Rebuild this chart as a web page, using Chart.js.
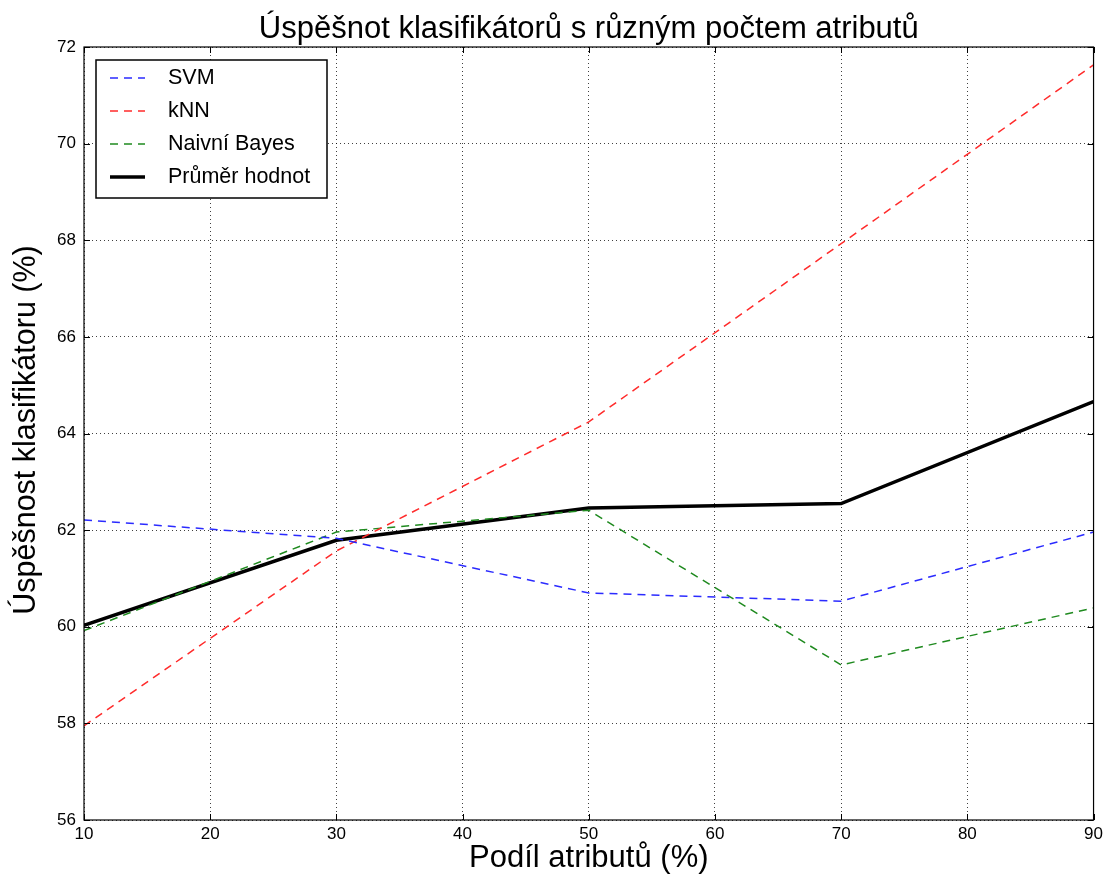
<!DOCTYPE html>
<html>
<head>
<meta charset="utf-8">
<script src="https://cdn.jsdelivr.net/npm/chart.js@4"></script>
<style>
  html, body { margin: 0; padding: 0; background: #fff; }
  #wrap { width: 1107px; height: 876px; }
</style>
</head>
<body>
<div id="wrap"><canvas id="c" width="1107" height="876"></canvas></div>
<script>
/* ---- data ---- */
const shares = [10, 30, 50, 70, 90];            // Podíl atributů (%)
const svm    = [62.21, 61.83, 60.70, 60.53, 61.96];
const knn    = [57.95, 61.57, 64.24, 67.93, 71.63];
const bayes  = [59.92, 61.96, 62.41, 59.21, 60.39];
const avg    = [60.03, 61.79, 62.46, 62.55, 64.66];
const yTicks = [56, 58, 60, 62, 64, 66, 68, 70, 72];
const xTicks = [10, 20, 30, 40, 50, 60, 70, 80, 90];

const titleText = 'Úspěšnot klasifikátorů s různým počtem atributů';
const xTitle = 'Podíl atributů (%)';
const yTitle = 'Úspěšnost klasifikátoru (%)';
const FONT = '"Liberation Sans", Arial, sans-serif';

const pts = arr => shares.map((x, i) => ({ x, y: arr[i] }));

/* frame, inward ticks, titles and the in-plot legend */
const decor = {
  id: 'decor',
  afterDraw(chart) {
    const { ctx, chartArea: a, scales } = chart;
    ctx.save();
    ctx.strokeStyle = '#000';
    ctx.lineWidth = 1.2;
    ctx.strokeRect(a.left, a.top, a.right - a.left, a.bottom - a.top);

    // matplotlib-style ticks pointing into the plot on all four sides
    ctx.lineWidth = 1;
    xTicks.forEach(v => {
      const px = Math.round(scales.x.getPixelForValue(v)) + 0.5;
      ctx.beginPath();
      ctx.moveTo(px, a.bottom); ctx.lineTo(px, a.bottom - 6);
      ctx.moveTo(px, a.top); ctx.lineTo(px, a.top + 6);
      ctx.stroke();
    });
    yTicks.forEach(v => {
      const py = Math.round(scales.y.getPixelForValue(v)) + 0.5;
      ctx.beginPath();
      ctx.moveTo(a.left, py); ctx.lineTo(a.left + 6, py);
      ctx.moveTo(a.right, py); ctx.lineTo(a.right - 6, py);
      ctx.stroke();
    });

    // titles
    ctx.fillStyle = '#000';
    ctx.textAlign = 'center';
    ctx.textBaseline = 'middle';
    ctx.font = '31px ' + FONT;
    ctx.fillText(titleText, (a.left + a.right) / 2, 29);
    ctx.fillText(xTitle, (a.left + a.right) / 2, 858);
    ctx.save();
    ctx.font = '30.5px ' + FONT;
    ctx.translate(27, 430);
    ctx.rotate(-Math.PI / 2);
    ctx.fillText(yTitle, 0, 0);
    ctx.restore();

    // legend box
    const lx = 96, ly = 60, lw = 231, lh = 138;
    ctx.fillStyle = '#fff';
    ctx.fillRect(lx, ly, lw, lh);
    ctx.strokeStyle = '#000';
    ctx.lineWidth = 1.5;
    ctx.strokeRect(lx, ly, lw, lh);
    const rows = [78, 111, 144, 177];
    ctx.font = '21.5px ' + FONT;
    ctx.textAlign = 'left';
    chart.data.datasets.forEach((ds, i) => {
      const y = rows[i];
      ctx.strokeStyle = ds.borderColor;
      ctx.lineWidth = ds.borderWidth;
      ctx.setLineDash(ds.borderDash || []);
      ctx.beginPath();
      ctx.moveTo(110, y); ctx.lineTo(145, y);
      ctx.stroke();
      ctx.setLineDash([]);
      ctx.fillStyle = '#000';
      ctx.fillText(ds.label, 168, y);
    });
    ctx.restore();
  }
};

new Chart(document.getElementById('c'), {
  type: 'line',
  data: {
    datasets: [
      { label: 'SVM', data: pts(svm), borderColor: '#2b2bff', borderWidth: 1.5, borderDash: [8, 6] },
      { label: 'kNN', data: pts(knn), borderColor: '#ff2b2b', borderWidth: 1.5, borderDash: [8, 6] },
      { label: 'Naivní Bayes', data: pts(bayes), borderColor: '#1f8a1f', borderWidth: 1.5, borderDash: [8, 6] },
      { label: 'Průměr hodnot', data: pts(avg), borderColor: '#000', borderWidth: 3.5 }
    ]
  },
  options: {
    responsive: false,
    animation: false,
    devicePixelRatio: 1,
    elements: { point: { radius: 0 }, line: { tension: 0 } },
    layout: { padding: { left: 0, right: 10, top: 47, bottom: 0 } },
    plugins: { legend: { display: false }, title: { display: false }, tooltip: { enabled: false } },
    scales: {
      x: {
        type: 'linear', min: 10, max: 90,
        afterFit: s => { s.height = 56; },
        afterBuildTicks: s => { s.ticks = xTicks.map(v => ({ value: v })); },
        grid: { color: 'rgba(0,0,0,0.75)', drawTicks: false },
        border: { display: false, dash: [1, 3] },
        ticks: { color: '#000', font: { size: 17, family: FONT }, padding: 4, maxRotation: 0 }
      },
      y: {
        min: 56, max: 72,
        afterFit: s => { s.width = 84; },
        afterBuildTicks: s => { s.ticks = yTicks.map(v => ({ value: v })); },
        grid: { color: 'rgba(0,0,0,0.75)', drawTicks: false },
        border: { display: false, dash: [1, 3] },
        ticks: { color: '#000', font: { size: 17, family: FONT }, padding: 8 }
      }
    }
  },
  plugins: [decor]
});
</script>
</body>
</html>
